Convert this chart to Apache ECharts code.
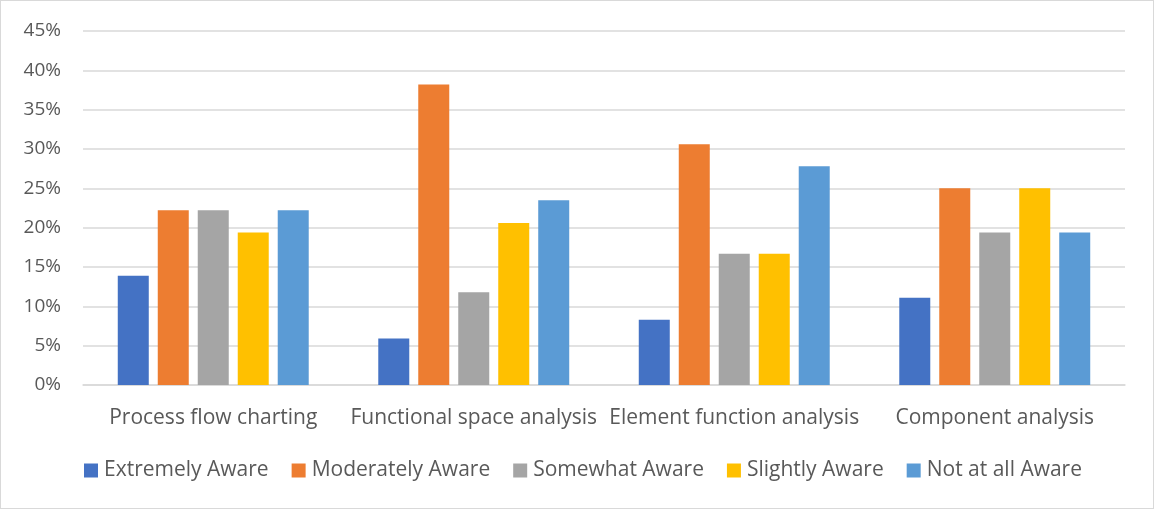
<!DOCTYPE html>
<html><head><meta charset="utf-8">
<script src="https://cdn.jsdelivr.net/npm/echarts@6/dist/echarts.min.js"></script>
<style>html,body{margin:0;padding:0;background:#fff}#c{width:1154px;height:509px;box-sizing:border-box;border:1px solid #D9D9D9}</style>
</head><body><div id="c"></div>
<script>
const categories = ['Process flow charting','Functional space analysis','Element function analysis','Component analysis'];
const seriesNames = ['Extremely Aware','Moderately Aware','Somewhat Aware','Slightly Aware','Not at all Aware'];
const extremely = [13.9, 5.9, 8.3, 11.1];
const moderately = [22.2, 38.2, 30.6, 25.0];
const somewhat = [22.2, 11.8, 16.7, 19.4];
const slightly = [19.4, 20.6, 16.7, 25.0];
const notAtAll = [22.2, 23.5, 27.8, 19.4];
const colors = ['#4472C4','#ED7D31','#A5A5A5','#FFC000','#5B9BD5'];
const values = [extremely, moderately, somewhat, slightly, notAtAll];
const font = '"Open Sans", sans-serif';
const chart = echarts.init(document.getElementById('c'));
chart.setOption({
  animation:false,
  color:colors,
  textStyle:{fontFamily:font},
  grid:{left:82,right:28,top:30,bottom:123,containLabel:false},
  legend:{bottom:22,left:78,itemWidth:14,itemHeight:14,itemGap:23,icon:'rect',
    textStyle:{fontSize:21,color:'#595959',fontFamily:font,padding:[0,0,0,1]},data:seriesNames},
  xAxis:{type:'category',data:categories,axisTick:{show:false},
    axisLine:{lineStyle:{color:'#D9D9D9',width:1.5}},
    axisLabel:{interval:0,fontSize:21,color:'#595959',margin:23,fontFamily:font}},
  yAxis:{type:'value',min:0,max:45,interval:5,
    axisLabel:{formatter:'{value}%',fontSize:19,color:'#595959',margin:22,fontFamily:font},
    splitLine:{lineStyle:{color:'#D9D9D9',width:1.5}},axisLine:{show:false},axisTick:{show:false}},
  series: values.map((v,i)=>({name:seriesNames[i],type:'bar',data:v,barWidth:31,barGap:'29%'}))
});
</script></body></html>
